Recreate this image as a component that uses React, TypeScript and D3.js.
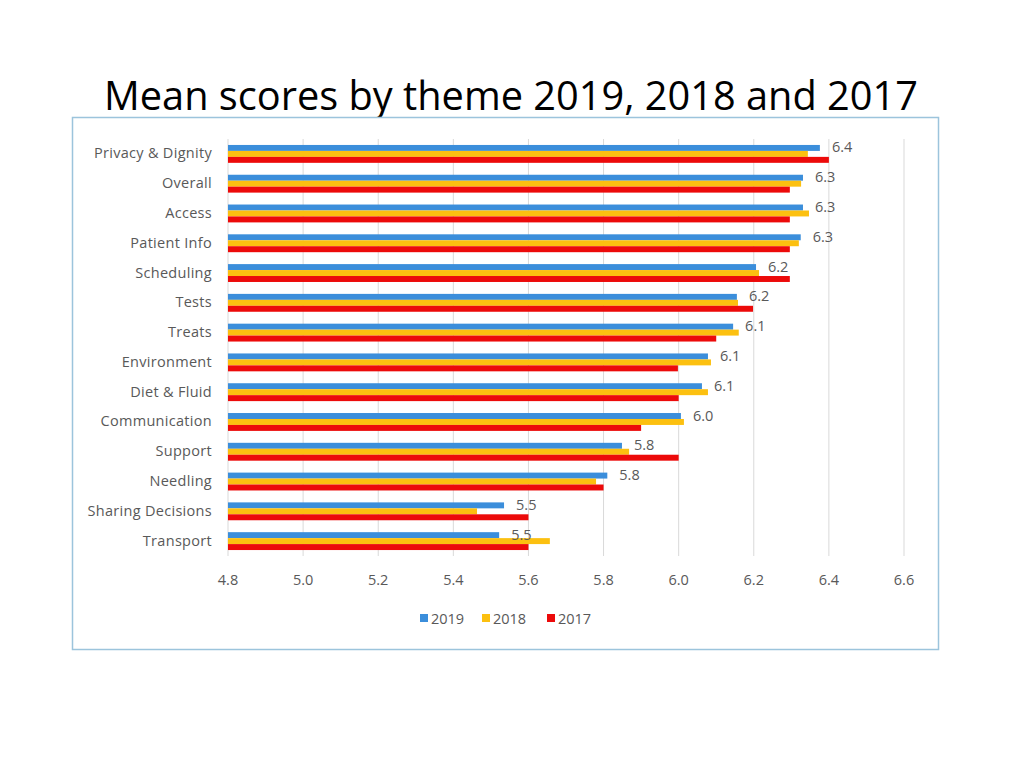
import React from "react";
import * as d3 from "d3";

const categories = [
  "Privacy & Dignity",
  "Overall",
  "Access",
  "Patient Info",
  "Scheduling",
  "Tests",
  "Treats",
  "Environment",
  "Diet & Fluid",
  "Communication",
  "Support",
  "Needling",
  "Sharing Decisions",
  "Transport",
];

const years = ["2019", "2018", "2017"];

const values2019 = [6.376, 6.331, 6.331, 6.325, 6.206, 6.155, 6.145, 6.078, 6.062, 6.006, 5.849, 5.81, 5.535, 5.522];
const values2018 = [6.344, 6.326, 6.347, 6.32, 6.214, 6.158, 6.16, 6.086, 6.078, 6.014, 5.868, 5.78, 5.463, 5.657];
const values2017 = [6.4, 6.296, 6.296, 6.296, 6.296, 6.198, 6.1, 5.998, 6.0, 5.9, 6.0, 5.8, 5.6, 5.6];

const xTicks = [4.8, 5.0, 5.2, 5.4, 5.6, 5.8, 6.0, 6.2, 6.4, 6.6];

const title = "Mean scores by theme 2019, 2018 and 2017";

const colors = ["#3b8edb", "#fcc010", "#ec0a0a"];

export default function App() {
  const series = [values2019, values2018, values2017];
  const x = d3.scaleLinear().domain([4.8, 6.6]).range([228, 904]);
  const y = d3.scaleBand<string>().domain(categories).range([139, 556]).paddingInner(0.4).paddingOuter(0.2);
  const yInner = d3.scaleBand<string>().domain(years).range([0, y.bandwidth()]);
  const font = "'Open Sans', 'DejaVu Sans', sans-serif";
  const legendX = [420, 482, 547];
  const fs = 14.5;

  return (
    <svg width={1024} height={768} style={{ position: "absolute", left: 0, top: 0 }}>
      <rect x={0} y={0} width={1024} height={768} fill="#ffffff" />
      <text
        x={104}
        y={110}
        fontFamily={font}
        fontSize={40}
        fill="#000"
        textLength={814}
        lengthAdjust="spacingAndGlyphs"
      >
        {title}
      </text>
      <rect x={72.5} y={117.5} width={866} height={532} fill="#fff" stroke="#9cc4dc" strokeWidth={1.5} />
      {xTicks.map((t) => (
        <line key={t} x1={x(t)} x2={x(t)} y1={139} y2={556} stroke="#d9d9d9" strokeWidth={1} />
      ))}
      {categories.map((c, i) => (
        <g key={c}>
          {series.map((s, k) => (
            <rect
              key={k}
              x={x(4.8)}
              y={(y(c) as number) + (yInner(years[k]) as number)}
              width={x(s[i]) - x(4.8)}
              height={yInner.bandwidth()}
              fill={colors[k]}
            />
          ))}
          <text
            x={212}
            y={(y(c) as number) + y.bandwidth() / 2 - 1}
            textAnchor="end"
            dominantBaseline="central"
            fontFamily={font}
            fontSize={fs}
            fill="#595959"
            letterSpacing={0.3}
          >
            {c}
          </text>
          <text
            x={x(values2019[i]) + 12}
            y={(y(c) as number) + (yInner("2019") as number) + yInner.bandwidth() / 2 - 1}
            dominantBaseline="central"
            fontFamily={font}
            fontSize={fs}
            fill="#595959"
          >
            {d3.format(".1f")(values2019[i])}
          </text>
        </g>
      ))}
      {xTicks.map((t) => (
        <text
          key={t}
          x={x(t)}
          y={579}
          textAnchor="middle"
          dominantBaseline="central"
          fontFamily={font}
          fontSize={fs}
          fill="#595959"
        >
          {d3.format(".1f")(t)}
        </text>
      ))}
      {years.map((yr, k) => (
        <g key={yr}>
          <rect x={legendX[k]} y={614} width={8} height={8} fill={colors[k]} />
          <text
            x={legendX[k] + 11}
            y={618.5}
            dominantBaseline="central"
            fontFamily={font}
            fontSize={fs}
            fill="#595959"
          >
            {yr}
          </text>
        </g>
      ))}
    </svg>
  );
}
